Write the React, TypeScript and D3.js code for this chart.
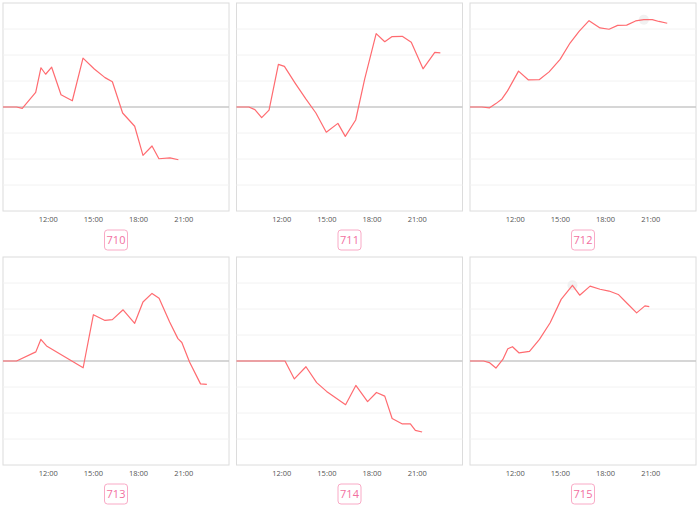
import React from "react";
import * as d3 from "d3";

const panelLabels = ["710", "711", "712", "713", "714", "715"];
const tickHours = [12, 15, 18, 21];
const tickLabels = ["12:00", "15:00", "18:00", "21:00"];
const gridValues = [-3, -2, -1, 1, 2, 3];

const hours710 = [9.0, 9.9, 10.28, 11.17, 11.52, 11.83, 12.23, 12.85, 13.6, 14.31, 15.06, 15.77, 16.26, 16.94, 17.74, 18.29, 18.89, 19.35, 20.08, 20.64];
const values710 = [0, 0, -0.05, 0.56, 1.51, 1.26, 1.53, 0.47, 0.24, 1.88, 1.46, 1.13, 0.97, -0.23, -0.74, -1.86, -1.5, -1.99, -1.96, -2.03];

const hours711 = [9.0, 9.82, 10.22, 10.67, 11.16, 11.78, 12.18, 12.89, 13.6, 14.27, 14.96, 15.73, 16.22, 16.91, 17.51, 18.27, 18.84, 19.33, 20.0, 20.6, 21.38, 22.16, 22.53];
const values711 = [0, 0, -0.1, -0.41, -0.12, 1.64, 1.56, 0.92, 0.31, -0.23, -0.97, -0.63, -1.13, -0.5, 1.08, 2.82, 2.51, 2.71, 2.72, 2.49, 1.47, 2.1, 2.08];

const hours712 = [9.0, 9.79, 10.3, 10.72, 11.12, 11.49, 12.22, 12.88, 13.59, 14.25, 14.98, 15.64, 16.24, 16.9, 17.63, 18.23, 18.8, 19.4, 19.99, 20.54, 21.1, 21.54, 22.09];
const values712 = [0, 0, -0.03, 0.13, 0.31, 0.62, 1.38, 1.04, 1.05, 1.35, 1.83, 2.46, 2.91, 3.32, 3.04, 2.99, 3.14, 3.15, 3.31, 3.36, 3.36, 3.29, 3.22];

const hours713 = [9.0, 9.9, 11.18, 11.51, 11.89, 14.32, 15.0, 15.77, 16.26, 16.97, 17.74, 18.29, 18.89, 19.36, 20.06, 20.61, 20.87, 21.38, 22.11, 22.53];
const values713 = [0, 0, 0.35, 0.83, 0.58, -0.26, 1.78, 1.56, 1.59, 1.97, 1.45, 2.27, 2.6, 2.41, 1.5, 0.86, 0.71, -0.04, -0.88, -0.9];

const hours714 = [9.0, 12.22, 12.84, 13.61, 14.32, 14.98, 16.24, 16.92, 17.7, 18.29, 18.84, 19.33, 20.01, 20.54, 20.87, 21.32];
const values714 = [0, 0, -0.69, -0.22, -0.83, -1.17, -1.68, -0.94, -1.56, -1.21, -1.35, -2.21, -2.42, -2.42, -2.67, -2.73];

const hours715 = [9.0, 9.9, 10.28, 10.72, 11.18, 11.51, 11.82, 12.26, 12.95, 13.61, 14.32, 15.05, 15.8, 16.28, 16.97, 17.63, 18.23, 18.84, 19.44, 20.06, 20.61, 20.9];
const values715 = [0, 0, -0.06, -0.27, 0.06, 0.47, 0.55, 0.31, 0.37, 0.83, 1.47, 2.37, 2.91, 2.53, 2.88, 2.76, 2.69, 2.56, 2.21, 1.85, 2.12, 2.09];

const hoverHours = [null, null, 20.54, null, null, 15.8];
const hoverValues = [null, null, 3.36, null, null, 2.91];

const seriesHours = [hours710, hours711, hours712, hours713, hours714, hours715];
const seriesValues = [values710, values711, values712, values713, values714, values715];

const W = 700;
const H = 508;
const colStep = 233.5;
const rowStep = 254;
const panelW = 226;
const panelH = 208;

function Panel({ idx }: { idx: number }) {
  const col = idx % 3;
  const row = Math.floor(idx / 3);
  const left = 3 + col * colStep;
  const top = 3 + row * rowStep;
  const bottom = top + panelH;
  const x = d3.scaleLinear().domain([9, 24]).range([left, left + panelW]);
  const y = d3.scaleLinear().domain([-4, 4]).range([bottom, top]);
  const pts: [number, number][] = seriesHours[idx].map((h, i) => [h, seriesValues[idx][i]]);
  const line = d3
    .line<[number, number]>()
    .x((d) => x(d[0]))
    .y((d) => y(d[1]));
  const cx = left + panelW / 2;
  const hh = hoverHours[idx];
  const hv = hoverValues[idx];
  return (
    <g>
      <rect x={left} y={top} width={panelW} height={panelH} fill="#fff" stroke="#dcdcdc" strokeWidth={1} />
      {gridValues.map((g) => (
        <line key={g} x1={left} x2={left + panelW} y1={y(g)} y2={y(g)} stroke="#f2f2f2" strokeWidth={1} />
      ))}
      <line x1={left} x2={left + panelW} y1={y(0)} y2={y(0)} stroke="#c9c9c9" strokeWidth={1.3} />
      {hh != null && hv != null && (
        <circle cx={x(hh)} cy={y(hv)} r={5} fill="#eeeeee" opacity={0.8} />
      )}
      <path d={line(pts) || ""} fill="none" stroke="#ff6b70" strokeWidth={1.2} strokeLinejoin="round" />
      {tickHours.map((t, i) => (
        <text
          key={t}
          x={x(t)}
          y={bottom + 11}
          textAnchor="middle"
          fontSize={7.5}
          fill="#555"
          fontFamily="'Open Sans', 'DejaVu Sans', sans-serif"
        >
          {tickLabels[i]}
        </text>
      ))}
      <rect x={cx - 11.5} y={bottom + 19} width={23} height={20} rx={3} fill="#fff" stroke="#f9aac6" strokeWidth={1} />
      <text
        x={cx}
        y={bottom + 33}
        textAnchor="middle"
        fontSize={11}
        fill="#f2709f"
        fontFamily="'Open Sans', 'DejaVu Sans', sans-serif"
      >
        {panelLabels[idx]}
      </text>
    </g>
  );
}

export default function App() {
  return (
    <svg
      width={W}
      height={H}
      style={{ position: "fixed", left: 0, top: 0, background: "#fff" }}
    >
      <rect x={0} y={0} width={W} height={H} fill="#fff" />
      {panelLabels.map((_, i) => (
        <Panel key={i} idx={i} />
      ))}
    </svg>
  );
}
